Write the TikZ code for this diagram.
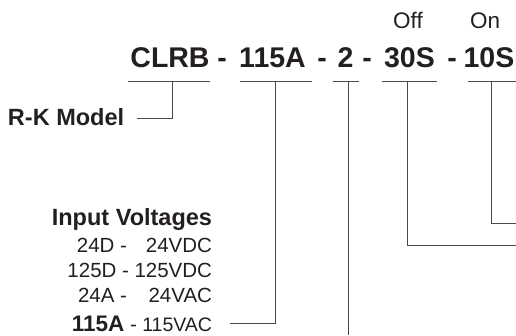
\documentclass[tikz,border=0pt]{standalone}
\usepackage{fontspec}
\setmainfont{Liberation Sans}
\definecolor{ink}{HTML}{231F20}
\definecolor{wire}{HTML}{4A4A4A}
\begin{document}
\begin{tikzpicture}[x=1pt,y=-1pt,
  every node/.style={inner sep=0pt,outer sep=0pt,text=ink},
  title/.style={anchor=base,font=\fontsize{28.5}{30}\selectfont\bfseries},
  hdr/.style={anchor=base,font=\fontsize{22.5}{24}\selectfont},
  lbl/.style={font=\fontsize{23.5}{25}\selectfont\bfseries},
  row/.style={anchor=base east,font=\fontsize{20.5}{22}\selectfont},
  wireline/.style={draw=wire,line width=0.9pt}]
\useasboundingbox (0,0) rectangle (516,335);
% title
\node[title] (t1) at (170,67) {CLRB};
\node[title] (h1) at (222,67) {-};
\node[title] (t2) at (272.5,67) {115A};
\node[title] (h2) at (322,67) {-};
\node[title] (t3) at (345.5,67) {2};
\node[title] (h3) at (367,67) {-};
\node[title] (t4) at (409.5,67) {30S};
\node[title] (h4) at (452,67) {-};
\node[title] (t5) at (489,67) {10S};
\node[hdr] (off) at (408,28) {Off};
\node[hdr] (on) at (485,28) {On};
% labels
\node[lbl,anchor=base west] (rk) at (8,125) {R-K Model};
\node[lbl,anchor=base east] (iv) at (212,225) {Input Voltages};
\node[row] (r1a) at (127,252) {24D -};
\node[row] (r1b) at (212,252) {24VDC};
\node[row] (r2a) at (129,277) {125D -};
\node[row] (r2b) at (212,277) {125VDC};
\node[row] (r3a) at (127,302) {24A -};
\node[row] (r3b) at (212,302) {24VAC};
\node[row] (r4a) at (137,331) {{\fontsize{22.5}{24}\selectfont\bfseries 115A} -};
\node[row,font=\fontsize{19.5}{21}\selectfont] (r4b) at (212,331) {115VAC};
% coordinates
\coordinate (u1l) at (128,81); \coordinate (u1r) at (210,81);
\coordinate (u1m) at (172,81); \coordinate (u1b) at (172,118); \coordinate (rkend) at (137,118);
\coordinate (u2l) at (240,81); \coordinate (u2r) at (312,81);
\coordinate (u2m) at (275,81); \coordinate (u2b) at (275,323); \coordinate (vend) at (230,323);
\coordinate (u3l) at (333,81); \coordinate (u3r) at (359,81);
\coordinate (u3m) at (348,81); \coordinate (u3b) at (348,335);
\coordinate (u4l) at (382,81); \coordinate (u4r) at (437,81);
\coordinate (u4m) at (407,81); \coordinate (u4b) at (407,245); \coordinate (u4e) at (516,245);
\coordinate (u5l) at (468,81); \coordinate (u5r) at (516,81);
\coordinate (u5m) at (491,81); \coordinate (u5b) at (491,223); \coordinate (u5e) at (516,223);
% connectors
\draw[wireline] (u1l) -- (u1r);
\draw[wireline] (u1m) -- (u1b) -- (rkend);
\draw[wireline] (u2l) -- (u2r);
\draw[wireline] (u2m) -- (u2b) -- (vend);
\draw[wireline] (u3l) -- (u3r);
\draw[wireline] (u3m) -- (u3b);
\draw[wireline] (u4l) -- (u4r);
\draw[wireline] (u4m) -- (u4b) -- (u4e);
\draw[wireline] (u5l) -- (u5r);
\draw[wireline] (u5m) -- (u5b) -- (u5e);
\end{tikzpicture}
\end{document}
